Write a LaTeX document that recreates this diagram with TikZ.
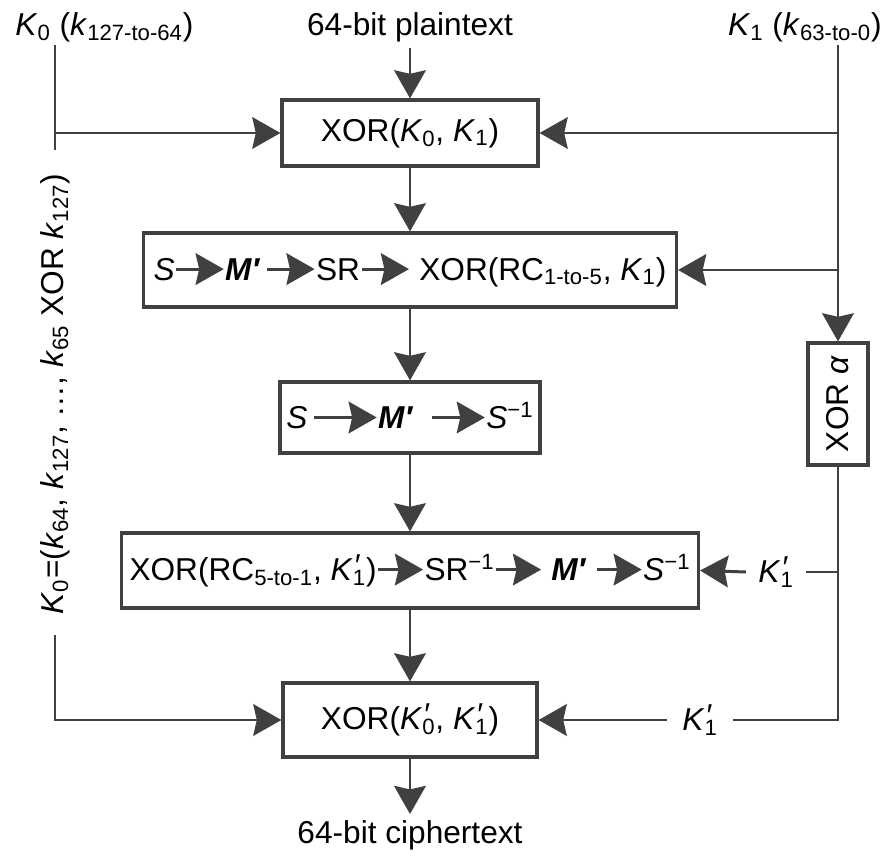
\documentclass[tikz,border=0pt]{standalone}
\usepackage{fontspec}
\setmainfont{Liberation Sans}
\usetikzlibrary{arrows.meta}
\definecolor{linegray}{HTML}{404040}
\newcommand{\iarr}[1][0.9]{\tikz[baseline=-6.3pt]\draw[linegray,line width=1.7pt,-{Stealth[length=16pt,width=18pt,inset=2pt]}] (0,0)--(#1,0);}
\newcommand{\kk}[2]{\textit{#1}\textsubscript{#2}}
\newcommand{\kp}[1]{\textit{K}\rlap{\raisebox{0.12em}{\kern0.02em\textit{′}}}\textsubscript{#1}}
\newcommand{\mprime}{\textbf{\textit{M′}}}
\begin{document}
\begin{tikzpicture}[font=\fontsize{18}{22}\selectfont,
  box/.style={draw=linegray,line width=1.8pt,inner sep=0pt},
  ln/.style={linegray,line width=1.7pt},
  arr/.style={ln,-{Stealth[length=16pt,width=18pt,inset=2pt]}}]
  \useasboundingbox (0,0) rectangle (17.74,-17.18);
  % inputs
  \node (plain) at (8.2,-0.54) {64-bit plaintext};
  \node[anchor=west,inner sep=0pt] (k0) at (0.3,-0.55) {\kk{K}{0} (\kk{k}{127-to-64})};
  \node[anchor=east,inner sep=0pt] (k1) at (17.64,-0.55) {\kk{K}{1} (\kk{k}{63-to-0})};
  % rounds
  \node[box,minimum width=5.12cm,minimum height=1.32cm] (x1) at (8.2,-2.66) {XOR(\kk{K}{0}, \kk{K}{1})};
  \node[box,minimum width=10.66cm,minimum height=1.48cm] (x2) at (8.2,-5.4)
    {\textit{S}\iarr[0.95]\mprime\,\iarr[0.95]SR\iarr[0.95]\ XOR(RC\textsubscript{1-to-5}, \kk{K}{1})};
  \node[box,minimum width=5.2cm,minimum height=1.42cm] (x3) at (8.2,-8.35)
    {\textit{S}\,\iarr[1.25]\mprime\ \ \iarr[1.05]\textit{S}\textsuperscript{−1}};
  \node[box,minimum width=11.54cm,minimum height=1.5cm] (x4) at (8.2,-11.41)
    {XOR(RC\textsubscript{5-to-1}, \kp{1})\iarr[0.9]SR\textsuperscript{−1}\iarr[0.9] \mprime\ \iarr[0.9]\textit{S}\textsuperscript{−1}};
  \node[box,minimum width=5.08cm,minimum height=1.48cm] (x5) at (8.2,-14.4) {XOR(\kp{0}, \kp{1})};
  \node (cipher) at (8.2,-16.7) {64-bit ciphertext};
  % key schedule
  \node[box,minimum width=1.2cm,minimum height=2.44cm] (xa) at (16.76,-8.08) {\rotatebox{90}{XOR \textit{α}}};
  \node[inner sep=0.24cm] (ka) at (15.52,-11.44) {\kp{1}};
  \node[inner sep=0.3cm] (kb) at (14.0,-14.4) {\kp{1}};
  \node[rotate=90] (k0lab) at (1.1,-7.88) {\kk{K}{0}=(\kk{k}{64}, \kk{k}{127}, …, \kk{k}{65} XOR \kk{k}{127})};
  \coordinate (k0top) at (1.1,-0.9);
  \coordinate (k0end) at (1.1,-3.0);
  \coordinate (k0low) at (1.1,-12.7);
  \coordinate (k1top) at (16.76,-0.9);
  % data path
  \draw[arr] (plain) -- (x1);
  \draw[arr] (x1) -- (x2);
  \draw[arr] (x2) -- (x3);
  \draw[arr] (x3) -- (x4);
  \draw[arr] (x4) -- (x5);
  \draw[arr] (x5) -- (cipher);
  % K0
  \draw[ln] (k0top) -- (k0end);
  \draw[arr] (k0top |- x1) -- (x1.west);
  \draw[arr] (k0low) |- (x5.west);
  % K1
  \draw[arr] (k1top) -- (xa.north);
  \draw[arr] (k1top |- x1) -- (x1.east);
  \draw[arr] (k1top |- x2) -- (x2.east);
  \draw[ln] (xa.south) |- (kb.east);
  \draw[arr] (kb.west) -- (x5.east);
  \draw[ln] (xa.south |- ka) -- (ka.east);
  \draw[arr] (ka.west) -- (x4.east);
\end{tikzpicture}
\end{document}
